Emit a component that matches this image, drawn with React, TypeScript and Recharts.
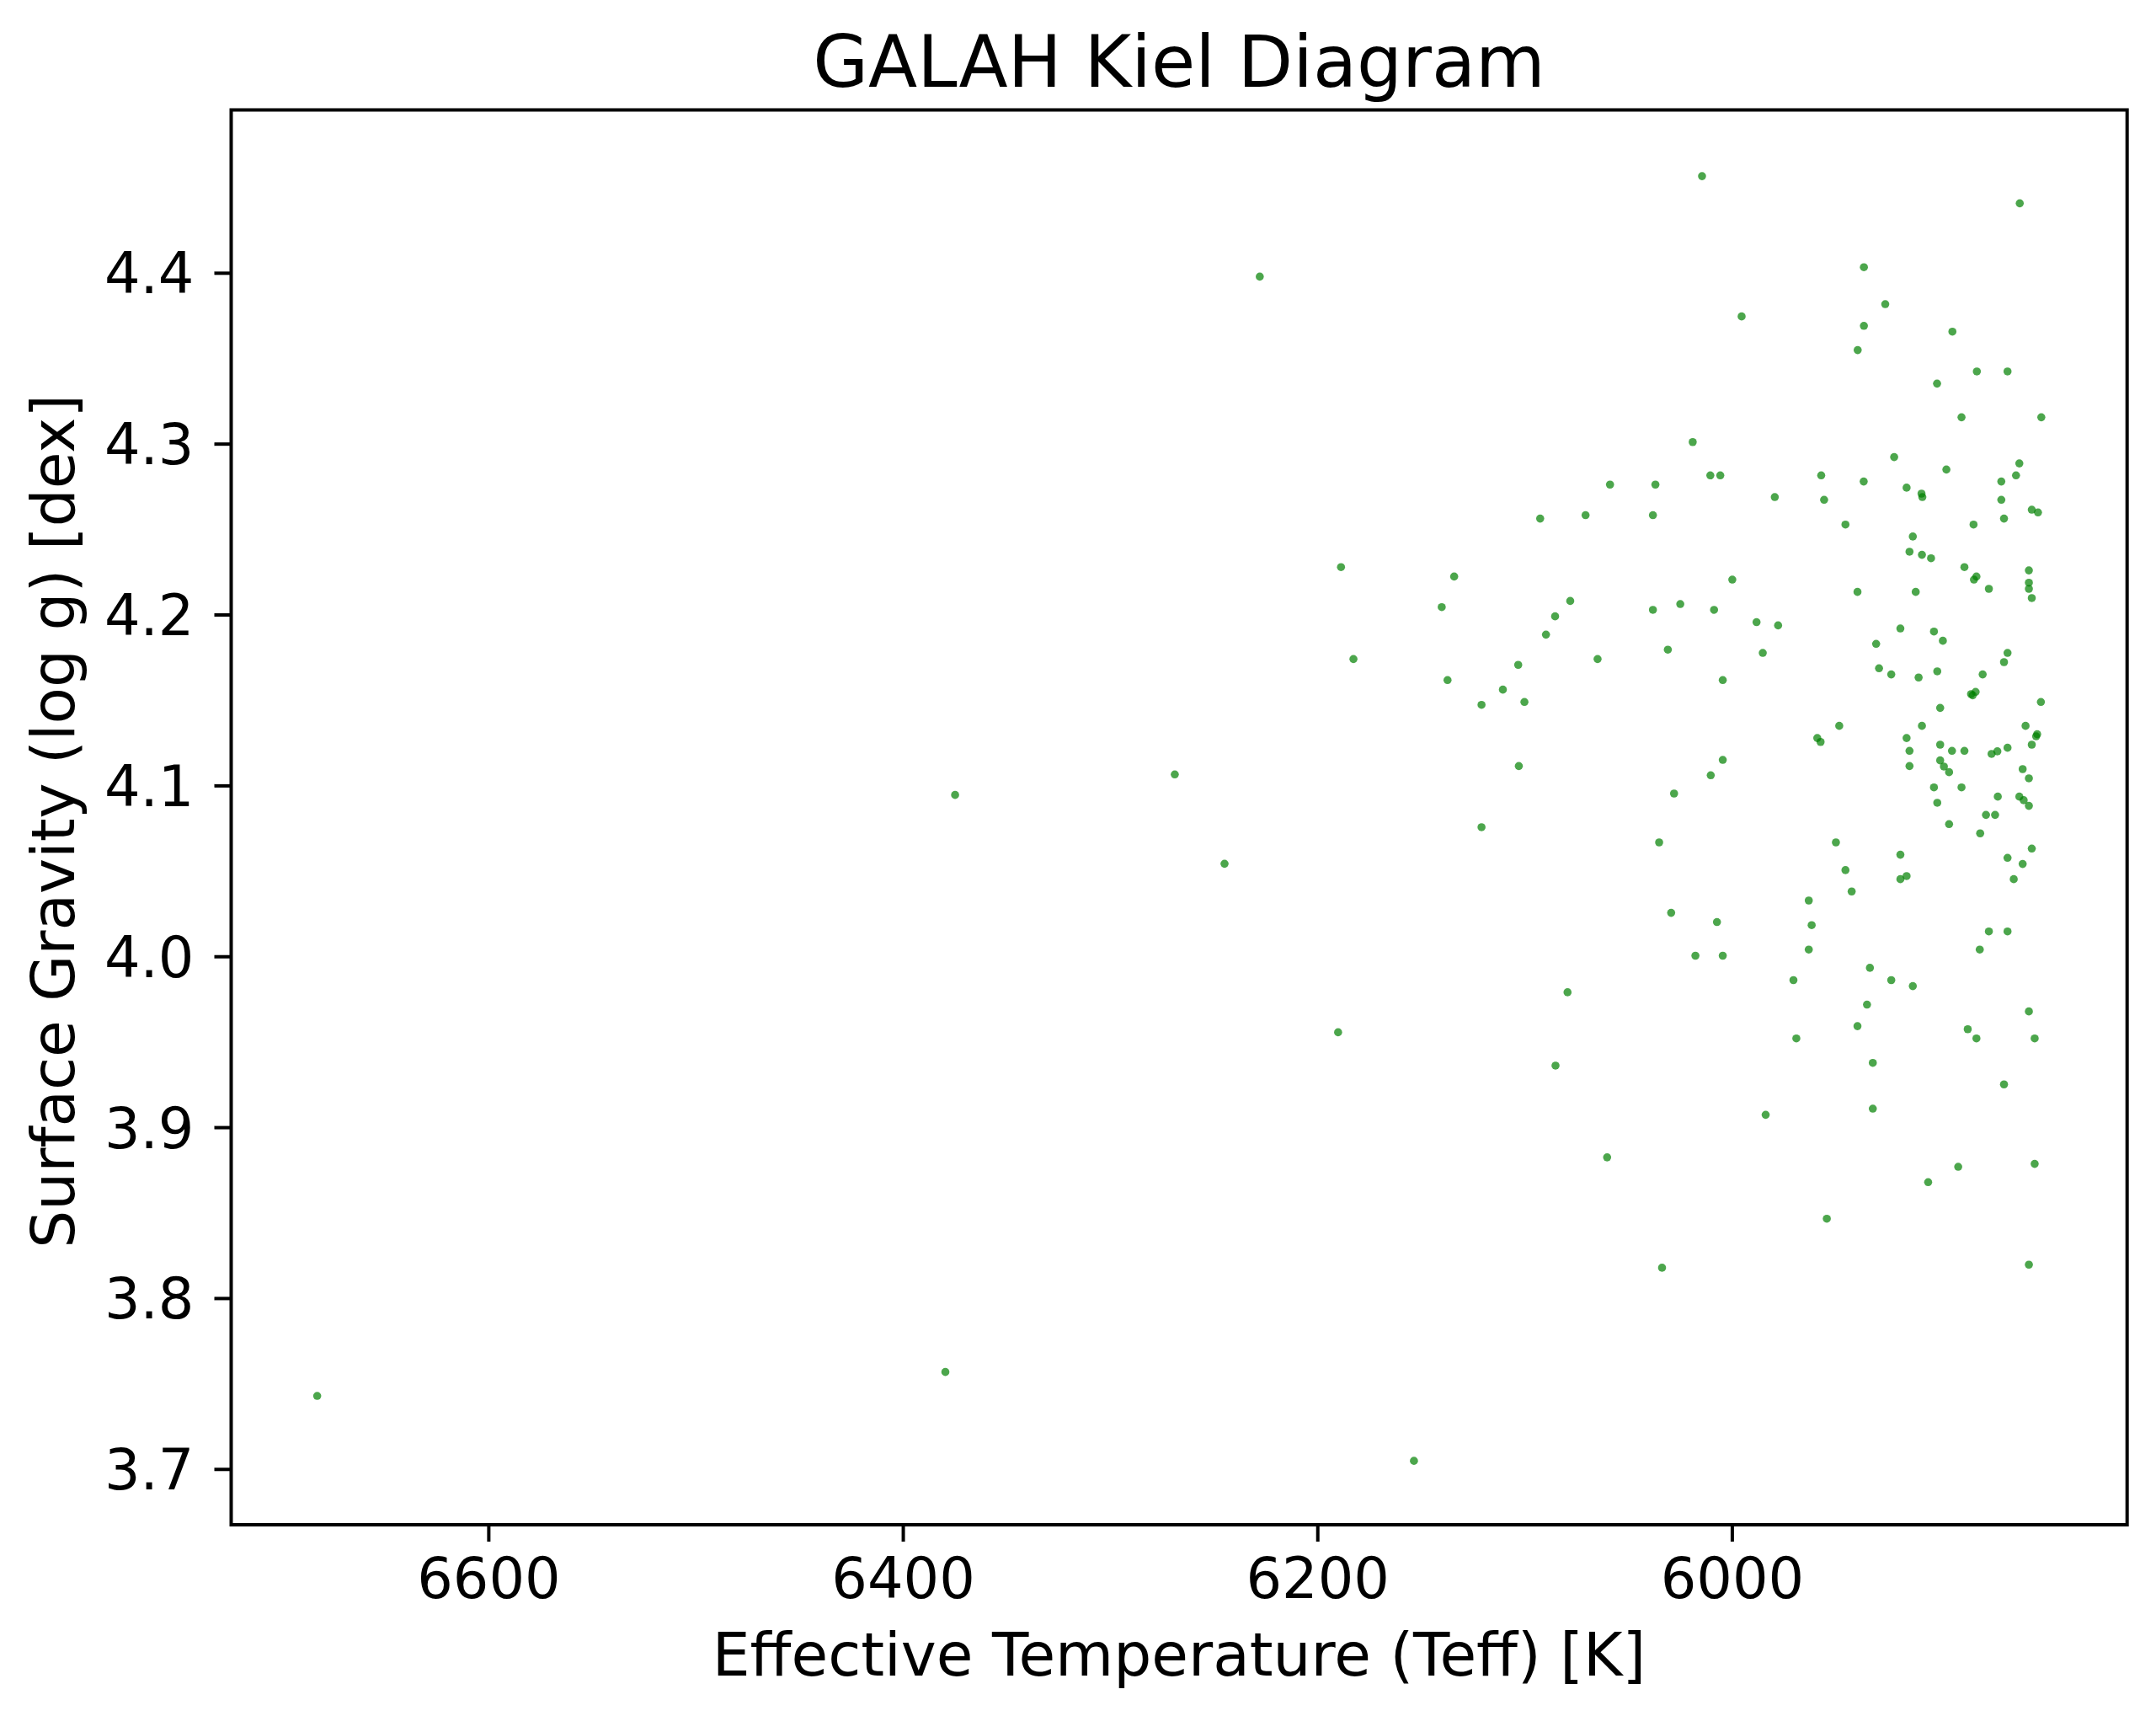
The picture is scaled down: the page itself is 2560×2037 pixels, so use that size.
import React from "react";
import { ScatterChart, Scatter, XAxis, YAxis, ReferenceArea } from "recharts";

// Effective temperature (K) of each star
const teffValues: number[] = [
  6014.6, 5861.3, 5936.5, 5926.2, 5995.5, 5936.5, 5939.5, 5893.8, 5882.0, 5867.2,
  5901.2, 5889.4, 5850.9, 6019.1,
  5921.9, 5861.5, 5896.7, 6010.6, 6005.8, 5957.1, 5863.1, 6059.0, 6037.1, 5936.6,
  5870.2, 5915.9, 5908.7, 5908.3, 5979.5, 5955.7, 5870.2, 5855.5, 5852.5, 6092.7,
  6070.8, 6038.3, 5868.9, 5945.4, 5883.6, 5912.9, 5914.5, 5908.5, 5904.1, 6188.8,
  5888.0, 5856.9, 6134.2, 6000.0, 5882.2, 5883.4, 5856.9, 5856.9, 5876.2, 5939.6,
  5911.5, 5855.5, 6078.2, 6140.2, 6038.3, 6025.1, 6008.8, 6085.5, 5988.3, 5977.9,
  5918.9, 5902.7, 5898.4, 5930.6, 6089.9, 6031.1, 5985.3, 5867.2, 6182.8, 6065.0,
  5868.9, 6103.3, 5929.2, 5923.3, 5910.1, 5901.1, 5879.2, 6137.4, 6004.6, 6110.7,
  5884.8, 5882.6, 5884.0, 6121.0, 6100.3, 5851.1, 5899.7,
  5948.4, 5908.5, 5858.5, 5852.9, 5853.4, 5959.0, 5957.4, 5915.9, 5899.7, 5855.5,
  5914.5, 5894.0, 5888.0, 5874.9, 5872.1, 5867.2, 6103.0, 6004.6, 5914.5, 5899.7,
  5897.9, 5895.4, 5859.9, 5856.9, 6010.4, 6028.1, 5902.7, 5889.4, 5871.9, 5861.5,
  5859.4, 5901.1, 5856.9, 5877.6, 5873.2, 6121.0, 5895.4, 5880.4, 6035.3, 5950.0,
  5855.5, 5918.9, 5867.2, 5859.9, 5945.4, 5918.9, 5915.9, 5864.2, 5942.4, 5963.1,
  6029.5, 6007.4, 5961.7, 5876.2, 5867.2, 5963.1, 5880.6, 6017.8, 6004.6, 5933.6,
  5970.5, 5923.3, 5912.9, 6079.5, 5935.0,
  5856.9, 6190.2, 5939.6, 5969.1, 5886.4, 5882.2, 5854.1, 6085.3, 5932.2, 5868.9,
  5932.2, 5983.9, 6060.4, 5891.0, 5854.1, 5905.5, 5954.4, 6033.9, 5856.9,
  6682.8, 6379.7, 6375.0, 6269.0, 6245.0, 6228.0, 6153.6,
];

// Surface gravity (log g, dex) of each star
const loggValues: number[] = [
  4.4568, 4.4409, 4.4035, 4.3819, 4.3747, 4.3692, 4.355, 4.3658, 4.3425, 4.3425,
  4.3354, 4.3157, 4.3157, 4.3012,
  4.2924, 4.2887, 4.2851, 4.2817, 4.2817, 4.2817, 4.2817, 4.2763, 4.2763, 4.2781,
  4.2781, 4.2745, 4.271, 4.269, 4.269, 4.2674, 4.2674, 4.2616, 4.26, 4.2564,
  4.2584, 4.2584, 4.2564, 4.2529, 4.2529, 4.2459, 4.237, 4.2352, 4.2332, 4.228,
  4.228, 4.2261, 4.2225, 4.2207, 4.2225, 4.2207, 4.2189, 4.2153, 4.2153, 4.2135,
  4.2135, 4.2099, 4.2082, 4.2046, 4.203, 4.2064, 4.203, 4.1992, 4.1958, 4.1939,
  4.1921, 4.1903, 4.1849, 4.1831, 4.1885, 4.1797, 4.1778, 4.1778, 4.1742, 4.1742,
  4.1724, 4.1708, 4.1688, 4.1652, 4.1634, 4.167, 4.1652, 4.1619, 4.1619, 4.1563,
  4.1537, 4.155, 4.153, 4.1474, 4.1491, 4.1491, 4.1456,
  4.1351, 4.1351, 4.1351, 4.1302, 4.129, 4.128, 4.1257, 4.128, 4.1241, 4.1241,
  4.1205, 4.1205, 4.1205, 4.1187, 4.1202, 4.1223, 4.1116, 4.1152, 4.1116, 4.1149,
  4.1113, 4.108, 4.1098, 4.1044, 4.1062, 4.0955, 4.0991, 4.0991, 4.0937, 4.0937,
  4.0916, 4.0901, 4.0883, 4.083, 4.083, 4.0758, 4.0776, 4.0722, 4.0669, 4.0669,
  4.0633, 4.0597, 4.0579, 4.0543, 4.0507, 4.0454, 4.0472, 4.0454, 4.0382, 4.0329,
  4.0257, 4.0203, 4.0185, 4.0148, 4.0148, 4.0042, 4.0042, 4.0006, 4.0006, 3.9935,
  3.9863, 3.9863, 3.9828, 3.9792, 3.972,
  3.968, 3.9558, 3.9594, 3.9522, 3.9576, 3.9522, 3.9522, 3.9363, 3.9379, 3.9253,
  3.9111, 3.9075, 3.8826, 3.8771, 3.8788, 3.8681, 3.8467, 3.818, 3.8198,
  3.743, 3.757, 4.0947, 4.1067, 4.0544, 4.398, 3.705,
];

const xTicks: number[] = [6000, 6200, 6400, 6600];
const yTicks: number[] = [3.7, 3.8, 3.9, 4.0, 4.1, 4.2, 4.3, 4.4];
const xDomain: [number, number] = [5809.5, 6724.3];
const yDomain: [number, number] = [3.6676, 4.4955];

const titleText = "GALAH Kiel Diagram";
const xLabelText = "Effective Temperature (Teff) [K]";
const yLabelText = "Surface Gravity (log g) [dex]";

const points = teffValues.map((t, i) => ({ teff: t, logg: loggValues[i] }));

const W = 2560;
const H = 2037;
const FONT = "'DejaVu Sans', sans-serif";
const TICK_FS = 67;
const LABEL_FS = 71;

const XTick = (props: any) => {
  const { x, y, payload } = props;
  return (
    <text x={x} y={y + 67} textAnchor="middle" fontFamily={FONT} fontSize={TICK_FS} fill="#000">
      {String(payload.value)}
    </text>
  );
};

const YTick = (props: any) => {
  const { x, y, payload } = props;
  return (
    <text x={x - 24} y={y + 24} textAnchor="end" fontFamily={FONT} fontSize={TICK_FS} fill="#000">
      {Number(payload.value).toFixed(1)}
    </text>
  );
};

const Dot = (props: any) => {
  const { cx, cy } = props;
  return <circle cx={cx} cy={cy} r={4.8} fill="#008000" fillOpacity={0.7} />;
};

export default function App() {
  return (
    <div style={{ position: "absolute", left: 0, top: 0, width: W, height: H, background: "#fff" }}>
      <ScatterChart
        width={W}
        height={H}
        margin={{ top: 130.6, right: 34.3, left: 74.5, bottom: 77 }}
      >
        <XAxis
          type="number"
          dataKey="teff"
          domain={xDomain}
          reversed
          allowDataOverflow
          ticks={xTicks}
          interval={0}
          height={150}
          tickSize={20}
          tickMargin={0}
          tickLine={{ stroke: "#000", strokeWidth: 4 }}
          axisLine={false}
          tick={<XTick />}
        />
        <YAxis
          type="number"
          dataKey="logg"
          domain={yDomain}
          allowDataOverflow
          ticks={yTicks}
          interval={0}
          width={200}
          tickSize={20}
          tickMargin={0}
          tickLine={{ stroke: "#000", strokeWidth: 4 }}
          axisLine={false}
          tick={<YTick />}
        />
        <Scatter data={points} shape={<Dot />} isAnimationActive={false} />
        <ReferenceArea
          x1={xDomain[0]}
          x2={xDomain[1]}
          y1={yDomain[0]}
          y2={yDomain[1]}
          fill="none"
          fillOpacity={0}
          stroke="#000"
          strokeWidth={4}
          ifOverflow="visible"
        />
      </ScatterChart>
      <svg
        width={W}
        height={H}
        style={{ position: "absolute", left: 0, top: 0, pointerEvents: "none" }}
      >
        <text x={1400} y={103} textAnchor="middle" fontFamily={FONT} fontSize={85} fill="#000">
          {titleText}
        </text>
        <text x={1400} y={1989} textAnchor="middle" fontFamily={FONT} fontSize={LABEL_FS} fill="#000">
          {xLabelText}
        </text>
        <text
          x={0}
          y={0}
          transform="translate(88,975) rotate(-90)"
          textAnchor="middle"
          fontFamily={FONT}
          fontSize={LABEL_FS}
          fill="#000"
        >
          {yLabelText}
        </text>
      </svg>
    </div>
  );
}
